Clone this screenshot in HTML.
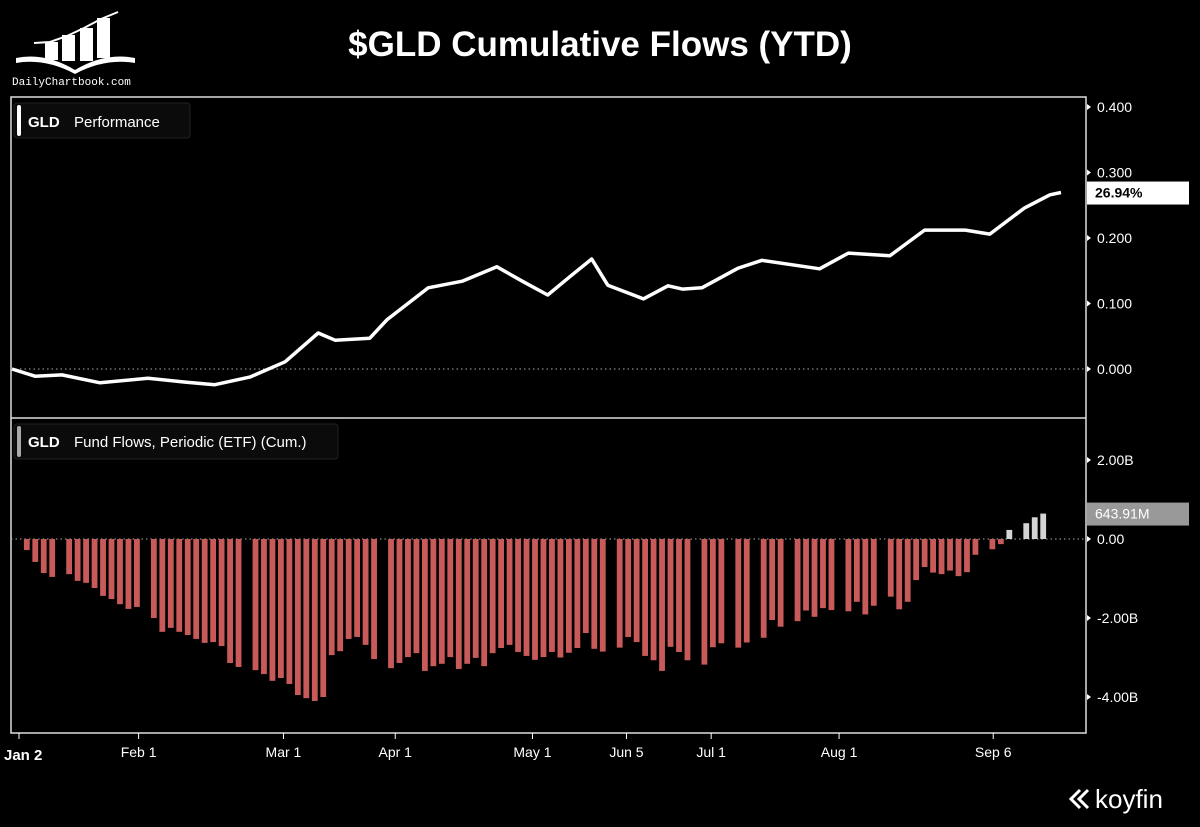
<!DOCTYPE html>
<html><head><meta charset="utf-8"><style>
html,body{margin:0;padding:0;background:#000;}
svg{display:block;font-family:"Liberation Sans",sans-serif;}
</style></head><body>
<svg id="c" width="1200" height="827" viewBox="0 0 1200 827">
<rect width="1200" height="827" fill="#000"/>
<g>
<path d="M16,58 Q45,52 75,70 Q105,52 135,58 L135,63 Q105,58 75,74 Q45,58 16,63 Z" fill="#fff"/>
<rect x="45" y="42" width="13" height="18" fill="#fff"/><rect x="62" y="35" width="13" height="26" fill="#fff"/><rect x="80" y="28" width="13" height="33" fill="#fff"/><rect x="97" y="18" width="13" height="40" fill="#fff"/>
<polyline points="34,43 50,42 67,36 84,28 101,19 118,12" stroke="#fff" stroke-width="2" fill="none"/>
<text x="12" y="85" font-family="Liberation Mono,monospace" font-size="11" fill="#fff">DailyChartbook.com</text>
</g>
<text x="600" y="56" text-anchor="middle" font-size="35" font-weight="bold" fill="#fff">$GLD Cumulative Flows (YTD)</text>
<rect x="11" y="97" width="1075" height="636" fill="none" stroke="#ddd" stroke-width="1.5"/>
<line x1="11" y1="418" x2="1086" y2="418" stroke="#ddd" stroke-width="1.5"/>
<g>
<rect x="14" y="103" width="176" height="35" rx="3" fill="#0b0b0b" stroke="#222"/>
<rect x="17" y="105" width="4" height="31" rx="2" fill="#fff"/>
<text x="28" y="127" font-size="15" font-weight="bold" fill="#fff">GLD</text>
<text x="74" y="127" font-size="15" fill="#fff">Performance</text>
</g>
<g>
<rect x="14" y="424" width="324" height="35" rx="3" fill="#0b0b0b" stroke="#222"/>
<rect x="17" y="426" width="4" height="31" rx="2" fill="#aaa"/>
<text x="28" y="447" font-size="15" font-weight="bold" fill="#fff">GLD</text>
<text x="74" y="447" font-size="15" fill="#fff">Fund Flows, Periodic (ETF) (Cum.)</text>
</g>
<g id="g1"></g><g id="g2"></g><g id="ax"></g>
<g>
<path d="M1080,790 l-9,9 l9,9 M1088,790 l-9,9 l9,9" stroke="#fff" stroke-width="3" fill="none"/>
<text x="1095" y="808" font-size="26" fill="#fff">koyfin</text>
</g>
</svg>
<script>
const perfT=[-1.75,0.97,4.16,8.64,14.3,18.7,22.2,26.4,30.5,34.4,36.4,40.5,42.5,47.4,51.4,55.5,58.5,61.5,64.4,66.7,68.6,72.8,75.7,77.4,79.7,84,86.8,93.6,97,101.9,106,110.8,113.7,117.8,120.8,122.1];
const perfValues=[0,-0.011,-0.009,-0.021,-0.014,-0.020,-0.024,-0.012,0.011,0.055,0.044,0.047,0.075,0.124,0.134,0.156,0.134,0.113,0.144,0.168,0.128,0.107,0.127,0.122,0.124,0.154,0.166,0.153,0.177,0.173,0.212,0.212,0.206,0.246,0.266,0.2694];
const flowValues=[-0.28,-0.58,-0.86,-0.96,null,-0.89,-1.06,-1.11,-1.24,-1.44,-1.52,-1.65,-1.77,-1.72,null,
-2.00,-2.35,-2.25,-2.35,-2.43,-2.53,-2.63,-2.61,-2.71,-3.14,-3.24,null,
-3.32,-3.42,-3.59,-3.52,-3.67,-3.95,-4.03,-4.10,-4.00,-2.94,-2.84,-2.53,-2.48,-2.68,-3.04,null,
-3.27,-3.14,-2.99,-2.89,-3.34,-3.22,-3.16,-2.99,-3.29,-3.16,-3.01,-3.22,-2.89,-2.76,-2.68,-2.86,-2.96,-3.06,-2.99,-2.86,
-3.00,-2.88,-2.76,-2.38,-2.78,-2.85,null,-2.75,-2.48,-2.61,-2.96,-3.07,-3.34,-2.73,-2.86,-3.07,null,
-3.18,-2.74,-2.64,null,-2.75,-2.62,null,-2.50,-2.05,-2.22,null,-2.08,-1.81,-1.97,-1.75,-1.80,null,
-1.83,-1.59,-1.91,-1.69,null,-1.46,-1.78,-1.59,-1.04,-0.71,-0.85,-0.89,-0.80,-0.94,-0.84,-0.40,null,
-0.26,-0.13,0.23,null,0.40,0.55,0.64391];
const perfTicks=[0,0.1,0.2,0.3,0.4];
const perfTickLabels=["0.000","0.100","0.200","0.300","0.400"];
const flowTicks=[-4,-2,0,2];
const flowTickLabels=["-4.00B","-2.00B","0.00","2.00B"];
const dateLabels=["Feb 1","Mar 1","Apr 1","May 1","Jun 5","Jul 1","Aug 1","Sep 6"];
const dateSlots=[13.2,30.3,43.5,59.7,70.8,80.8,95.9,114.1];
const NS="http://www.w3.org/2000/svg";
const xS=t=>26.8+8.47*t;
const yP=v=>369-655*v;
const yF=v=>539-39.5*v;
function mk(tag,at,parent){const e=document.createElementNS(NS,tag);for(const k in at)e.setAttribute(k,at[k]);parent.appendChild(e);return e;}
const g1=document.getElementById('g1'),g2=document.getElementById('g2'),ax=document.getElementById('ax');
let z1=mk('line',{x1:11,x2:1086,y1:yP(0),y2:yP(0),stroke:'#aaa','stroke-dasharray':'1.5,3'},g1);


let pts=perfT.map((t,i)=>Math.max(12,xS(t)).toFixed(1)+','+yP(perfValues[i]).toFixed(1)).join(' ');
let pl=mk('polyline',{points:pts,fill:'none',stroke:'#fff','stroke-width':3.5,'stroke-linejoin':'round'},g1);


let z2=mk('line',{x1:11,x2:1086,y1:yF(0),y2:yF(0),stroke:'#aaa','stroke-dasharray':'1.5,3'},g2);


flowValues.forEach((v,i)=>{if(v===null)return;
 const y0=yF(0),y1=yF(v);
 const r=mk('rect',{x:xS(i)-2.9,y:Math.min(y0,y1),width:5.8,height:Math.abs(y1-y0),fill:v<0?'#c95a5a':'#d4d4d4'},g2);
 
 });
perfTicks.forEach((v,i)=>{const y=yP(v);
 mk('path',{d:`M1087,${y-3} l4,3 l-4,3z`,fill:'#fff'},ax);
 const t=mk('text',{x:1097,y:y+5,'font-size':14,fill:'#fff'},ax);t.textContent=perfTickLabels[i];
 
 });
flowTicks.forEach((v,i)=>{const y=yF(v);
 mk('path',{d:`M1087,${y-3} l4,3 l-4,3z`,fill:'#fff'},ax);
 const t=mk('text',{x:1097,y:y+5,'font-size':14,fill:'#fff'},ax);t.textContent=flowTickLabels[i];
 
 });
const last=perfValues[perfValues.length-1];
mk('rect',{x:1087,y:yP(last)-11,width:102,height:23,fill:'#fff'},ax);
let lt=mk('text',{x:1095,y:yP(last)+5,'font-size':14,'font-weight':'bold',fill:'#000'},ax);lt.textContent=(last*100).toFixed(2)+'%';


const lf=flowValues[flowValues.length-1];
mk('rect',{x:1087,y:yF(lf)-11,width:102,height:23,fill:'#999'},ax);
let lf2=mk('text',{x:1095,y:yF(lf)+5,'font-size':14,fill:'#fff'},ax);lf2.textContent=(lf*1000).toFixed(2)+'M';


dateLabels.forEach((d,i)=>{const x=xS(dateSlots[i]);
 mk('line',{x1:x,x2:x,y1:733,y2:739,stroke:'#fff'},ax);
 const t=mk('text',{x:x,y:757,'font-size':14,fill:'#fff','text-anchor':'middle'},ax);t.textContent=d;
 
 });
mk('line',{x1:19,x2:19,y1:733,y2:739,stroke:'#fff'},ax);
let j=mk('text',{x:4,y:760,'font-size':15,'font-weight':'bold',fill:'#fff'},ax);j.textContent='Jan 2';


</script>
</body></html>
